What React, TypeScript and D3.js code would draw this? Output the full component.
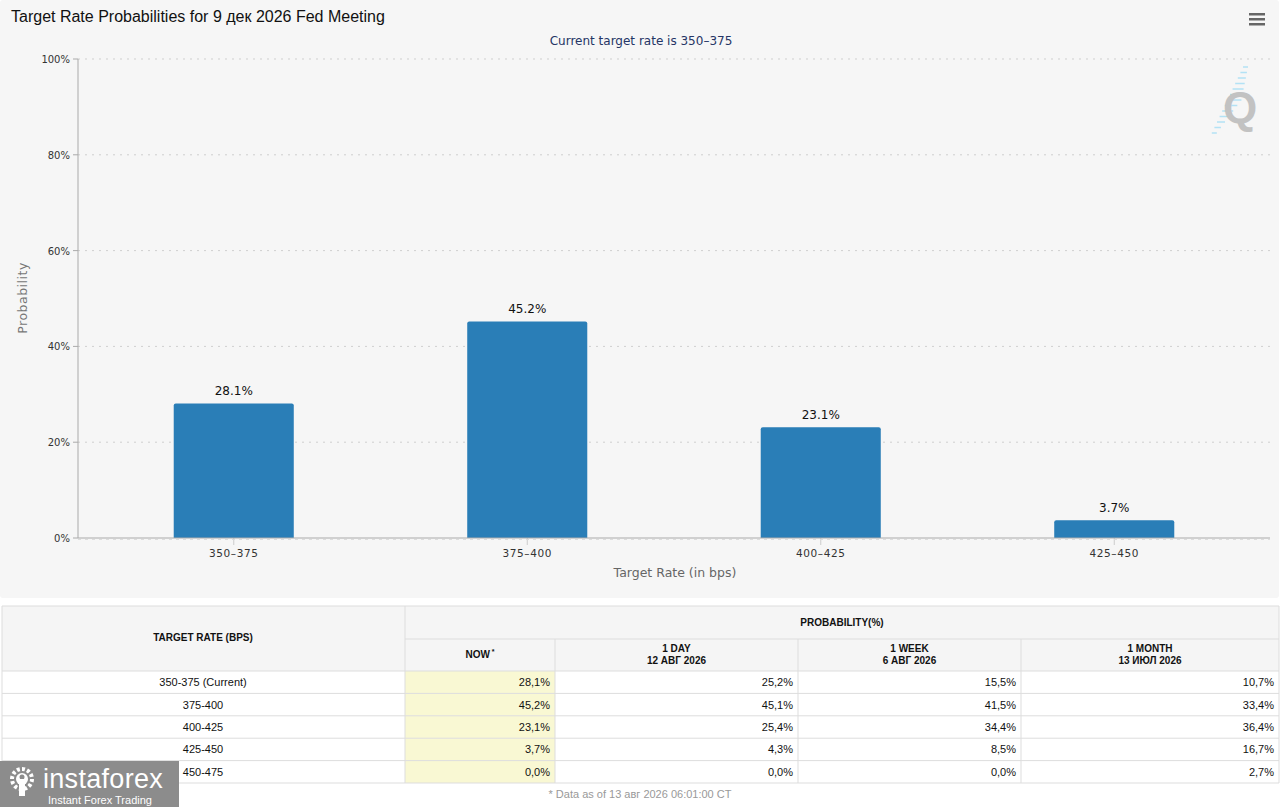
import React from 'react';
import * as d3 from 'd3';

// chart data
const categories = ['350-375', '375-400', '400-425', '425-450'];
const probNow = [28.1, 45.2, 23.1, 3.7];
const yTicks = [0, 20, 40, 60, 80, 100];

// table data
const tableRates = ['350-375 (Current)', '375-400', '400-425', '425-450', '450-475'];
const colNow = [28.1, 45.2, 23.1, 3.7, 0.0];
const col1Day = [25.2, 45.1, 25.4, 4.3, 0.0];
const col1Week = [15.5, 41.5, 34.4, 8.5, 0.0];
const col1Month = [10.7, 33.4, 36.4, 16.7, 2.7];
const colHeads = [['NOW'], ['1 DAY', '12 АВГ 2026'], ['1 WEEK', '6 АВГ 2026'], ['1 MONTH', '13 ИЮЛ 2026']];

const W = 1285;
const H = 807;
const axisFont = '"DejaVu Sans", Verdana, sans-serif';
const tableFont = '"Liberation Sans", Arial, sans-serif';

const fmtComma = (v: number) => v.toFixed(1).replace('.', ',') + '%';

export default function App() {
  const x = d3.scaleBand<string>()
    .domain(categories)
    .range([87, 1261])
    .paddingInner(0.591)
    .paddingOuter(0.2955);
  const y = d3.scaleLinear().domain([0, 100]).range([538, 59]);

  // table geometry
  const colX = [2, 405, 555, 798, 1021, 1279];
  const rowY = d3.scaleLinear().domain([0, 5]).range([671, 783]);
  const cols = [colNow, col1Day, col1Week, col1Month];

  return (
    <div style={{ position: 'absolute', left: 0, top: 0, width: W, height: H, background: '#fff' }}>
      <svg width={W} height={H} style={{ display: 'block' }}>
        {/* chart background */}
        <rect x={0} y={0} width={1279} height={598} rx={3} fill="#f6f6f6" />

        <text x={11} y={22} fontFamily={tableFont} fontSize={16} fill="#111">
          Target Rate Probabilities for 9 дек 2026 Fed Meeting
        </text>
        <text x={641} y={45} textAnchor="middle" fontFamily={axisFont} fontSize={12} fill="#253565">
          Current target rate is 350–375
        </text>

        {/* menu icon */}
        {[0, 1, 2].map(i => (
          <rect key={i} x={1249} y={13 + i * 5} width={16} height={2.5} fill="#666" />
        ))}

        {/* Q watermark */}
        <g>
          {d3.range(13).map(i => (
            <line key={i}
              x1={1243 - i * 2.6} x2={1243 - i * 2.6 + 14 - Math.abs(i - 6) * 1.5}
              y1={67 + i * 5.5} y2={67 + i * 5.5}
              stroke="#b3e2f5" strokeWidth={1.5} />
          ))}
          <text x={1240} y={123} textAnchor="middle" fontFamily={tableFont} fontWeight="bold" fontSize={44} fill="#c2c2c2">Q</text>
        </g>

        {/* grid */}
        {yTicks.map(t => (
          <g key={t}>
            {t > 0 && (
              <line x1={78} x2={1270} y1={y(t)} y2={y(t)} stroke="#cfcfcf" strokeDasharray="2,5" />
            )}
            <line x1={73} x2={78} y1={y(t)} y2={y(t)} stroke="#aaa" />
            <text x={70} y={y(t) + 4} textAnchor="end" fontFamily={axisFont} fontSize={10} fill="#333">
              {t}%
            </text>
          </g>
        ))}
        <line x1={78} x2={78} y1={59} y2={538} stroke="#aaa" />

        {/* bars */}
        {categories.map((c, i) => {
          const bx = x(c)!;
          const bw = x.bandwidth();
          const top = y(probNow[i]);
          const r = 2;
          const d = `M${bx},538 V${top + r} Q${bx},${top} ${bx + r},${top} H${bx + bw - r} Q${bx + bw},${top} ${bx + bw},${top + r} V538 Z`;
          return (
            <g key={c}>
              <path d={d} fill="#2a7eb7" />
              <text x={bx + bw / 2} y={top - 8} textAnchor="middle" fontFamily={axisFont} fontSize={12} fill="#111">
                {probNow[i].toFixed(1)}%
              </text>
              <line x1={bx + bw / 2} x2={bx + bw / 2} y1={538} y2={545} stroke="#ccc" />
              <text x={bx + bw / 2} y={557} textAnchor="middle" fontFamily={axisFont} fontSize={10.5} letterSpacing={0.6} fill="#333">
                {c.replace('-', '–')}
              </text>
            </g>
          );
        })}
        <line x1={78} x2={1270} y1={538} y2={538} stroke="#aaa" />
        <line x1={78} x2={1270} y1={539.5} y2={539.5} stroke="#ddd" strokeDasharray="3,4" />

        <text x={675} y={577} textAnchor="middle" fontFamily={axisFont} fontSize={12.5} fill="#666">
          Target Rate (in bps)
        </text>
        <text transform="translate(27,298) rotate(-90)" textAnchor="middle" fontFamily={axisFont} fontSize={12.5} letterSpacing={0.5} fill="#777">
          Probability
        </text>

        {/* table */}
        <g fontFamily={tableFont}>
          <rect x={2} y={606} width={1277} height={65} fill="#f5f5f5" />
          {tableRates.map((_, r) => (
            <rect key={r} x={colX[1]} y={rowY(r)} width={colX[2] - colX[1]} height={rowY(r + 1) - rowY(r)} fill="#f9f8d3" />
          ))}
          {/* horizontal borders */}
          <line x1={2} x2={1279} y1={606} y2={606} stroke="#ddd" />
          <line x1={405} x2={1279} y1={639} y2={639} stroke="#ddd" />
          {d3.range(6).map(r => (
            <line key={r} x1={2} x2={1279} y1={rowY(r)} y2={rowY(r)} stroke="#ddd" />
          ))}
          {/* vertical borders */}
          <line x1={2} x2={2} y1={606} y2={783} stroke="#ddd" />
          <line x1={1279} x2={1279} y1={606} y2={783} stroke="#ddd" />
          <line x1={405} x2={405} y1={606} y2={783} stroke="#ddd" />
          {colX.slice(2, 5).map(cx => (
            <line key={cx} x1={cx} x2={cx} y1={639} y2={783} stroke="#ddd" />
          ))}

          <text x={203} y={641} textAnchor="middle" fontSize={10} fontWeight="bold" fill="#111">TARGET RATE (BPS)</text>
          <text x={842} y={626} textAnchor="middle" fontSize={10} fontWeight="bold" fill="#111">PROBABILITY(%)</text>
          {colHeads.map((lines, i) => {
            const cx = (colX[i + 1] + colX[i + 2]) / 2;
            if (lines.length === 1) {
              return (
                <text key={i} x={cx} y={658} textAnchor="middle" fontSize={10} fontWeight="bold" fill="#111">
                  {lines[0]}<tspan fontSize={7} dy={-4}> *</tspan>
                </text>
              );
            }
            return (
              <text key={i} x={cx} y={652} textAnchor="middle" fontSize={10} fontWeight="bold" fill="#111">
                <tspan x={cx}>{lines[0]}</tspan>
                <tspan x={cx} dy={11.5}>{lines[1]}</tspan>
              </text>
            );
          })}

          {tableRates.map((rate, r) => {
            const ty = (rowY(r) + rowY(r + 1)) / 2 + 4;
            return (
              <g key={rate}>
                <text x={203} y={ty} textAnchor="middle" fontSize={11} fill="#111">{rate}</text>
                {cols.map((col, c) => (
                  <text key={c} x={colX[c + 2] - 5} y={ty} textAnchor="end" fontSize={11} fill="#111">
                    {fmtComma(col[r])}
                  </text>
                ))}
              </g>
            );
          })}

          <text x={640} y={798} textAnchor="middle" fontSize={11} fill="#999">
            * Data as of 13 авг 2026 06:01:00 CT
          </text>
        </g>

        {/* instaforex badge */}
        <g>
          <rect x={0} y={761} width={179} height={46} fill="#8c8c8c" />
          <circle cx={22} cy={779} r={10} fill="none" stroke="#fff" strokeWidth={4} strokeDasharray="3,2.2" />
          <circle cx={22} cy={779} r={6} fill="#fff" />
          <circle cx={22} cy={777} r={2.5} fill="#8c8c8c" />
          <rect x={19} y={779} width={6} height={17} fill="#fff" />
          <text x={43} y={788} fontFamily={tableFont} fontSize={27} letterSpacing={0.3} fill="#fff">instaforex</text>
          <text x={48} y={804} fontFamily={tableFont} fontSize={11} fill="#fff">Instant Forex Trading</text>
        </g>
      </svg>
    </div>
  );
}
